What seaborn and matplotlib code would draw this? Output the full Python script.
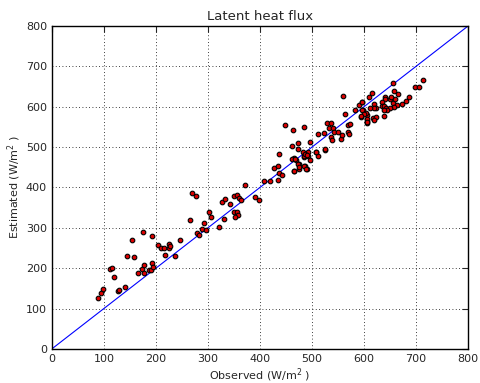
import matplotlib
matplotlib.use("Agg")
import matplotlib.pyplot as plt
import seaborn as sns
import pandas as pd

# observed vs estimated latent heat flux (W/m2)
observed = [89, 94, 99, 112, 116, 120, 127, 129, 140, 144, 154, 158, 165, 174, 176,
            178, 178, 186, 190, 193, 192, 195, 205, 210, 215, 217, 225, 226, 227, 236,
            247, 266, 269, 277, 279, 283, 292, 289, 297, 303, 306, 321, 331, 328, 332,
            342, 351, 355, 350, 355, 358, 352, 360, 364, 372, 390, 399, 408, 420, 427,
            435, 437, 442, 435, 436, 465, 470, 466, 475, 475, 483, 484, 487, 490, 493,
            497, 507, 511, 526, 448, 463, 485, 529, 537, 512, 524, 533, 540, 543, 551,
            537, 538, 556, 558, 569, 572, 569, 574, 563, 583, 591, 597, 598, 595, 605,
            605, 605, 474, 462, 473, 497, 484, 488, 492, 486, 490, 508, 526, 462, 468,
            474, 475, 485, 489, 465, 713, 699, 706, 656, 658, 665, 687, 680, 674, 650,
            655, 660, 664, 652, 658, 640, 641, 635, 635, 639, 643, 650, 644, 638, 638,
            615, 610, 597, 620, 623, 619, 612, 597, 603, 601, 594, 617, 623, 620, 605,
            606, 560]
estimated = [126, 138, 149, 198, 201, 178, 144, 146, 153, 230, 270, 228, 188, 198, 290,
             207, 189, 195, 195, 214, 280, 204, 258, 251, 251, 233, 251, 260, 255, 231,
             271, 319, 387, 380, 287, 282, 313, 298, 294, 339, 328, 303, 322, 363, 372,
             360, 380, 382, 340, 340, 333, 326, 375, 369, 407, 377, 369, 416, 416, 449,
             452, 437, 431, 419, 483, 472, 468, 442, 457, 447, 488, 476, 454, 445, 477,
             468, 489, 479, 493, 554, 543, 550, 561, 561, 533, 535, 547, 548, 538, 538,
             525, 517, 521, 529, 538, 532, 554, 558, 582, 592, 605, 613, 593, 575, 580,
             565, 560, 510, 502, 496, 513, 478, 484, 488, 483, 480, 488, 495, 470, 470,
             458, 450, 454, 445, 441, 666, 649, 650, 658, 639, 631, 625, 615, 607, 620,
             610, 618, 604, 625, 600, 624, 618, 611, 603, 601, 597, 597, 592, 592, 577,
             635, 624, 613, 606, 597, 597, 597, 593, 585, 581, 576, 573, 574, 566, 569,
             562, 626]
one_to_one = [0, 800]

df = pd.DataFrame({"obs": observed, "est": estimated})

sns.set_style("white")
plt.rcParams["font.family"] = ["DejaVu Sans"]

fig = plt.figure(figsize=(4.8, 3.83), dpi=100)
ax = fig.add_axes([0.108, 0.089, 0.867, 0.843])

sns.lineplot(x=one_to_one, y=one_to_one, color="blue", linewidth=0.8, ax=ax)
sns.scatterplot(data=df, x="obs", y="est", color="#dd0000", edgecolor="black",
                s=11, linewidth=0.8, ax=ax, zorder=3)

ax.set_xlim(0, 800)
ax.set_ylim(0, 800)
ax.set_xticks(range(0, 801, 100))
ax.set_yticks(range(0, 801, 100))
ax.grid(True, linestyle=(0, (1, 3)), color="black", linewidth=0.6)
ax.tick_params(direction="in", top=True, right=True, labelsize=8, length=4, width=0.8)
for sp in ax.spines.values():
    sp.set_color("black")
    sp.set_linewidth(1.0)

ax.set_title("Latent heat flux", fontsize=9.5, pad=4)
ax.set_xlabel("Observed (W/m$^2$ )", fontsize=8, labelpad=2)
ax.set_ylabel("Estimated (W/m$^2$ )", fontsize=8, labelpad=2)

fig.savefig("out.png", dpi=100)
